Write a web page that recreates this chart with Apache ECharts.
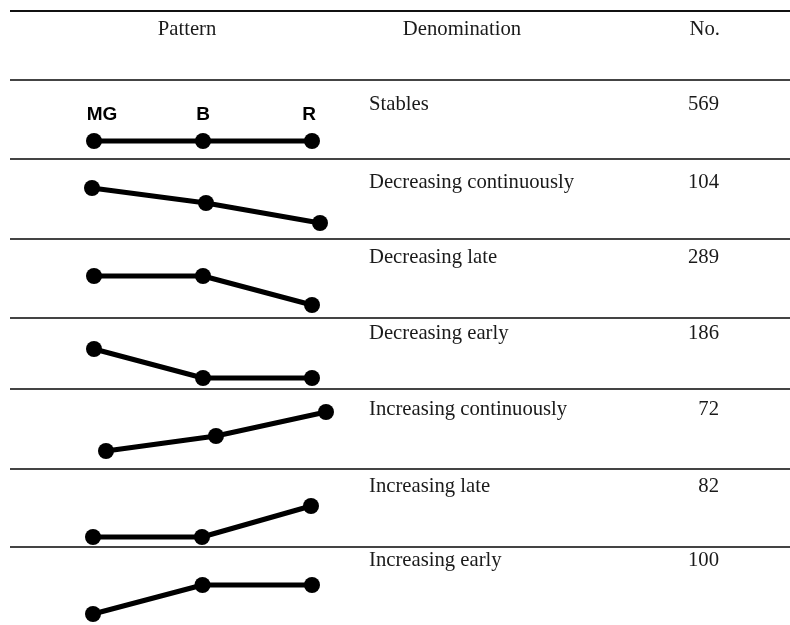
<!DOCTYPE html>
<html>
<head>
<meta charset="utf-8">
<script src="https://cdn.jsdelivr.net/npm/echarts@6/dist/echarts.min.js"></script>
<style>html,body{margin:0;padding:0;background:#fff}#c{width:790px;height:625px}</style>
</head>
<body>
<div id="c"></div>
<script>
// ---- data ----
const stages = ['MG', 'B', 'R'];
const headers = ['Pattern', 'Denomination', 'No.'];
const denominations = ['Stables', 'Decreasing continuously', 'Decreasing late', 'Decreasing early',
  'Increasing continuously', 'Increasing late', 'Increasing early'];
const counts = [569, 104, 289, 186, 72, 82, 100];
const stablesLevels = [0, 0, 0];
const decContLevels = [3.5, 2.0, 0];
const decLateLevels = [2.9, 2.9, 0];
const decEarlyLevels = [2.9, 0, 0];
const incContLevels = [0, 1.5, 3.9];
const incLateLevels = [0, 0, 3.1];
const incEarlyLevels = [0, 2.9, 2.9];
const patternLevels = [stablesLevels, decContLevels, decLateLevels, decEarlyLevels,
  incContLevels, incLateLevels, incEarlyLevels];

// ---- layout ----
const W = 790, H = 625;
const rules = [11, 80, 159, 239, 318, 389, 469, 547];
const baselines = [141, 223, 305, 378, 451, 537, 614];
const gridLeft = [94, 92, 94, 94, 106, 93, 93];
const gridRightX = [312, 320, 312, 312, 326, 311, 312];
const textY = [105, 183, 258, 334, 410, 487, 561];
const stageLabelOffset = [[8, 0], [0, 0], [-3, 0]];
const serif = "'Liberation Serif', 'Times New Roman', serif";
const fontSize = 20.7;

const grids = [], xAxes = [], yAxes = [], series = [];
patternLevels.forEach((lv, i) => {
  grids.push({left: gridLeft[i], width: gridRightX[i] - gridLeft[i], top: baselines[i] - 40, height: 40});
  xAxes.push({type: 'category', gridIndex: i, data: stages, boundaryGap: false, show: false});
  yAxes.push({type: 'value', gridIndex: i, min: 0, max: 4, show: false});
  const data = i === 0
    ? lv.map((v, k) => ({value: v, label: {offset: stageLabelOffset[k]}}))
    : lv;
  series.push({
    type: 'line', xAxisIndex: i, yAxisIndex: i, data: data, clip: false,
    symbol: 'circle', symbolSize: 16, silent: true, animation: false,
    lineStyle: {color: '#000', width: 5},
    itemStyle: {color: '#000'},
    label: i === 0 ? {show: true, position: 'top', distance: 9, formatter: '{b}',
      fontFamily: "'Liberation Sans', Arial, sans-serif", fontWeight: 'bold', fontSize: 19, color: '#000'} : {show: false}
  });
});

const graphics = [];
rules.forEach((y, i) => {
  graphics.push({type: 'line', shape: {x1: 10, y1: y, x2: W, y2: y},
    style: {stroke: i === 0 ? '#111' : '#444', lineWidth: 2}});
});
const headerX = [187, 462, 720];
const headerAlign = ['center', 'center', 'right'];
headers.forEach((h, i) => {
  graphics.push({type: 'text', x: headerX[i], y: 30,
    style: {text: h, font: fontSize + 'px ' + serif, fill: '#1a1a1a', align: headerAlign[i], verticalAlign: 'middle'}});
});
denominations.forEach((d, i) => {
  graphics.push({type: 'text', x: 369, y: textY[i],
    style: {text: d, font: fontSize + 'px ' + serif, fill: '#1a1a1a', align: 'left', verticalAlign: 'middle'}});
  graphics.push({type: 'text', x: 719, y: textY[i],
    style: {text: String(counts[i]), font: fontSize + 'px ' + serif, fill: '#1a1a1a', align: 'right', verticalAlign: 'middle'}});
});

const chart = echarts.init(document.getElementById('c'), null, {renderer: 'canvas'});
chart.setOption({
  animation: false,
  backgroundColor: '#fff',
  grid: grids, xAxis: xAxes, yAxis: yAxes, series: series,
  graphic: graphics
});
</script>
</body>
</html>
